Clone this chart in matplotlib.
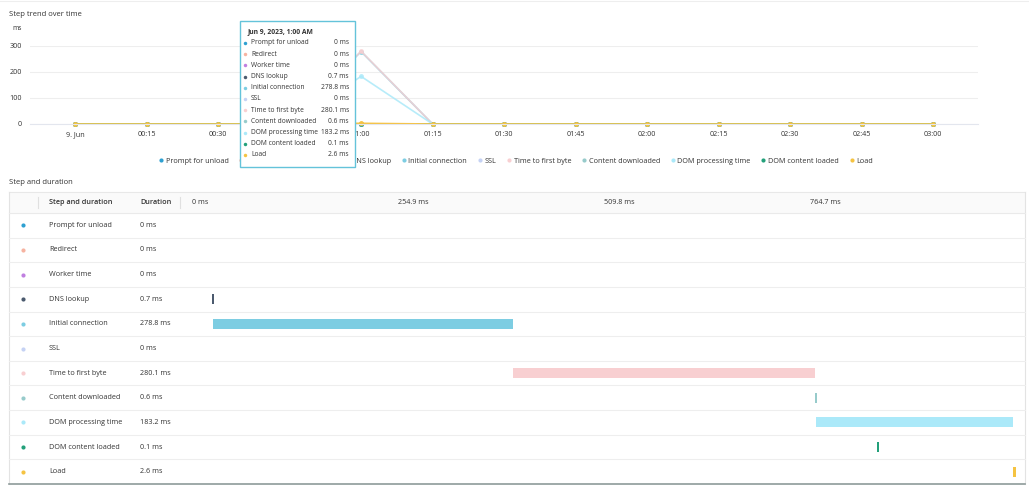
import matplotlib
matplotlib.use("Agg")
import matplotlib.pyplot as plt
from matplotlib.lines import Line2D
from matplotlib.patches import Rectangle
import numpy as np

plt.rcParams['font.family'] = ['Open Sans', 'DejaVu Sans']

W, H = 1029, 487
TXT = "#333333"
FS = 5.2

# steps, colours and durations at Jun 9, 2023, 1:00 AM
step_names = ["Prompt for unload", "Redirect", "Worker time", "DNS lookup",
              "Initial connection", "SSL", "Time to first byte",
              "Content downloaded", "DOM processing time",
              "DOM content loaded", "Load"]
step_colors = ["#2ea0d1", "#f6b3a1", "#c07fe0", "#4b5a6e", "#7dcde2",
               "#c5d2f4", "#f8cfd1", "#97cbcb", "#abe9f9", "#23a07a",
               "#f5c342"]
step_durations = [0, 0, 0, 0.7, 278.8, 0, 280.1, 0.6, 183.2, 0.1, 2.6]
step_starts = [0, 0, 0, 0, 0.7, 0, 279.5, 559.6, 560.2, 617.0, 743.4]

# trend over time, one point every 15 minutes
time_minutes = [0, 15, 30, 45, 60, 75, 90, 105, 120, 135, 150, 165, 180]
time_labels = ["9. Jun", "00:15", "00:30", "00:45", "01:00", "01:15", "01:30",
               "01:45", "02:00", "02:15", "02:30", "02:45", "03:00"]
trend_values = [
    [0, 0, 0, 0, 0, 0, 0, 0, 0, 0, 0, 0, 0],
    [0, 0, 0, 0, 0, 0, 0, 0, 0, 0, 0, 0, 0],
    [0, 0, 0, 0, 0, 0, 0, 0, 0, 0, 0, 0, 0],
    [0, 0, 0, 0, 0.7, 0, 0, 0, 0, 0, 0, 0, 0],
    [0, 0, 0, 0, 278.8, 0, 0, 0, 0, 0, 0, 0, 0],
    [0, 0, 0, 0, 0, 0, 0, 0, 0, 0, 0, 0, 0],
    [0, 0, 0, 0, 280.1, 0, 0, 0, 0, 0, 0, 0, 0],
    [0, 0, 0, 0, 0.6, 0, 0, 0, 0, 0, 0, 0, 0],
    [0, 0, 0, 0, 183.2, 0, 0, 0, 0, 0, 0, 0, 0],
    [0, 0, 0, 0, 0.1, 0, 0, 0, 0, 0, 0, 0, 0],
    [0, 0, 0, 0, 2.6, 0, 0, 0, 0, 0, 0, 0, 0],
]
y_ticks = [0, 100, 200, 300]
header_ticks = [0, 254.9, 509.8, 764.7]


def fx(px):
    return px / W


def fy(py):
    return 1 - py / H


def fmt(v):
    return f"{v:g} ms"


fig = plt.figure(figsize=(W / 100, H / 100), dpi=100)

# background layer in pixel coordinates
bg = fig.add_axes([0, 0, 1, 1])
bg.set_xlim(0, W)
bg.set_ylim(H, 0)
bg.axis("off")
bg.plot([0, W], [1, 1], color="#eeeeee", lw=0.8)
bg.text(9, 15, "Step trend over time", fontsize=FS + 0.3, color=TXT,
        va="center")
bg.text(12, 28, "ms", fontsize=FS - 0.4, color=TXT, va="center")

# ---- trend chart ----
ax = fig.add_axes([fx(30), fy(124), fx(978 - 30), (124 - 46) / H])
for name, col, vals in zip(step_names, step_colors, trend_values):
    ax.plot(time_minutes, vals, color=col, lw=1.2,
            alpha=1.0 if name == "Load" else 0.85,
            marker="o", markersize=3.5, markeredgewidth=0, clip_on=False)
ax.set_xlim(-9.44, 189.4)
ax.set_ylim(0, 300)
ax.set_yticks(y_ticks)
ax.set_xticks(time_minutes)
ax.set_xticklabels(time_labels)
ax.tick_params(axis="both", length=0, labelsize=FS, colors=TXT)
ax.tick_params(axis="x", pad=5)
ax.tick_params(axis="y", pad=6)
ax.grid(axis="y", color="#eeeeee", lw=0.8)
ax.set_axisbelow(True)
for s in ["top", "right", "left"]:
    ax.spines[s].set_visible(False)
ax.spines["bottom"].set_color("#e3e6ee")
ax.spines["bottom"].set_linewidth(0.8)
ax.set_facecolor("none")

handles = [Line2D([], [], ls="", marker="o", markersize=3, color=c,
                  markeredgewidth=0) for c in step_colors]
fig.legend(handles, step_names, loc="center", ncol=11,
           bbox_to_anchor=(fx(516), fy(161)), frameon=False, fontsize=FS,
           handlelength=0.5, handletextpad=0.4, columnspacing=1.5,
           labelcolor=TXT)

# ---- table ----
bg.text(9, 182, "Step and duration", fontsize=FS + 0.3, color=TXT,
        va="center")
tbl_top, hdr_bot, tbl_bot = 192, 213, 484
row_h = (tbl_bot - hdr_bot) / len(step_names)
bg.add_patch(Rectangle((9, tbl_top), 1025 - 9, hdr_bot - tbl_top,
                       facecolor="#fafafa", edgecolor="none"))
bg.plot([9, 1025], [tbl_top, tbl_top], color="#e8e8e8", lw=0.8)
bg.plot([9, 9], [tbl_top, tbl_bot], color="#e3e3e3", lw=0.8)
bg.plot([1025, 1025], [tbl_top, tbl_bot], color="#e3e3e3", lw=0.8)
bg.plot([9, 1025], [hdr_bot, hdr_bot], color="#eaeaea", lw=0.8)
for x in [38, 180]:
    bg.plot([x, x], [197, 208], color="#e0e0e0", lw=0.8)
hy = (tbl_top + hdr_bot) / 2
bg.text(49, hy, "Step and duration", fontsize=FS, color=TXT, va="center",
        fontweight="semibold")
bg.text(140, hy, "Duration", fontsize=FS, color=TXT, va="center",
        fontweight="semibold")
col_l, col_r = 192, 1016
for i, t in enumerate(header_ticks):
    bg.text(col_l + (col_r - col_l) * i / len(header_ticks), hy, fmt(t),
            fontsize=FS, color=TXT, va="center")

for i, (name, col, dur) in enumerate(zip(step_names, step_colors,
                                         step_durations)):
    cy = hdr_bot + (i + 0.5) * row_h
    bg.plot(23, cy, marker="o", markersize=3, color=col, markeredgewidth=0)
    bg.text(49, cy, name, fontsize=FS, color=TXT, va="center")
    bg.text(140, cy, fmt(dur), fontsize=FS, color=TXT, va="center")
    if i < len(step_names) - 1:
        yb = hdr_bot + (i + 1) * row_h
        bg.plot([9, 1025], [yb, yb], color="#eeeeee", lw=0.8)
bg.plot([9, 1025], [tbl_bot, tbl_bot], color="#8e9b9a", lw=1.2)

# waterfall bars
wf = fig.add_axes([fx(col_l), fy(tbl_bot), fx(col_r - col_l),
                   (tbl_bot - hdr_bot) / H])
rows = np.arange(len(step_names))
durs = np.array(step_durations)
shown = durs > 0
wf.barh(rows[shown], np.maximum(durs[shown], 1.9),
        left=np.array(step_starts)[shown], height=0.41,
        color=np.array(step_colors)[shown])
wf.set_xlim(-18.56, 746.2)
wf.set_ylim(len(step_names) - 0.5, -0.5)
wf.axis("off")

# ---- tooltip ----
tip = fig.add_axes([0, 0, 1, 1], zorder=10)
tip.set_xlim(0, W)
tip.set_ylim(H, 0)
tip.axis("off")
tip.add_patch(Rectangle((240, 21), 355 - 240, 167 - 21, facecolor="white",
                        edgecolor="#64c3da", lw=1.0))
tip.text(247, 32, "Jun 9, 2023, 1:00 AM", fontsize=FS - 0.3, color=TXT,
         va="center", fontweight="bold")
for i, (name, col, dur) in enumerate(zip(step_names, step_colors,
                                         step_durations)):
    ty = 43 + i * 11.2
    tip.plot(245, ty, marker="o", markersize=2.5, color=col,
             markeredgewidth=0)
    tip.text(251, ty, name, fontsize=FS - 0.4, color=TXT, va="center")
    tip.text(349, ty, fmt(dur), fontsize=FS - 0.4, color=TXT, va="center",
             ha="right")

fig.savefig("out.png", dpi=100)
